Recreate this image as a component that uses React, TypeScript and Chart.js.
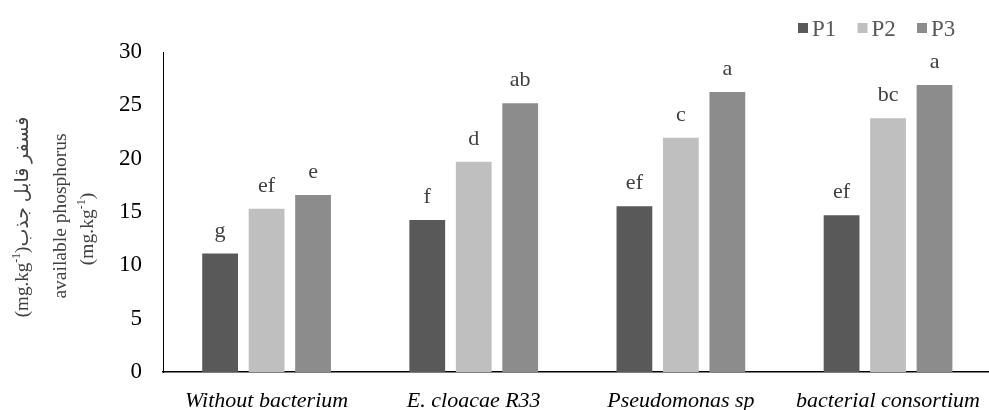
import React, { useEffect, useRef } from 'react';
import { Chart, registerables } from 'chart.js';

Chart.register(...registerables);

const categories = ['Without bacterium', 'E. cloacae R33', 'Pseudomonas sp', 'bacterial consortium'];
const seriesNames = ['P1', 'P2', 'P3'];
const p1Values = [11.1, 14.25, 15.55, 14.7];
const p2Values = [15.3, 19.7, 21.95, 23.8];
const p3Values = [16.6, 25.2, 26.25, 26.9];
const p1Letters = ['g', 'f', 'ef', 'ef'];
const p2Letters = ['ef', 'd', 'c', 'bc'];
const p3Letters = ['e', 'ab', 'a', 'a'];
const seriesColors = ['#595959', '#bfbfbf', '#8c8c8c'];
const yMin = 0;
const yMax = 30;
const yStep = 5;
const titleArabic = 'فسفر قابل جذب';
const titleEnglish = 'available phosphorus';
const unitBase = '(mg.kg';
const unitSup = '-1';
const unitClose = ')';

const SERIF = "'Liberation Serif', 'Times New Roman', 'DejaVu Sans', serif";
const lettersBySeries = [p1Letters, p2Letters, p3Letters];

const letterPlugin = {
  id: 'letters',
  afterDatasetsDraw(chart: any) {
    const ctx = chart.ctx;
    ctx.save();
    ctx.font = `22px ${SERIF}`;
    ctx.fillStyle = '#404040';
    ctx.textAlign = 'center';
    ctx.textBaseline = 'alphabetic';
    chart.data.datasets.forEach((_ds: any, i: number) => {
      const meta = chart.getDatasetMeta(i);
      meta.data.forEach((bar: any, j: number) => {
        ctx.fillText(lettersBySeries[i][j], bar.x, bar.y - 17);
      });
    });
    ctx.restore();
  },
};

const legendPlugin = {
  id: 'customLegend',
  afterDraw(chart: any) {
    const ctx = chart.ctx;
    ctx.save();
    ctx.font = `23px ${SERIF}`;
    ctx.textBaseline = 'alphabetic';
    ctx.textAlign = 'left';
    let x = 798;
    chart.data.datasets.forEach((ds: any) => {
      ctx.fillStyle = ds.backgroundColor;
      ctx.fillRect(x, 23, 10, 10);
      ctx.fillStyle = '#595959';
      ctx.fillText(ds.label, x + 14, 36);
      x += 59.5;
    });
    ctx.restore();
  },
};

type Seg = { text: string; sup?: boolean };

function drawLine(ctx: CanvasRenderingContext2D, segs: Seg[], cx: number, cy: number, size: number) {
  const supSize = Math.round(size * 0.62);
  const fontFor = (s: Seg) => `${s.sup ? supSize : size}px ${SERIF}`;
  let total = 0;
  const widths = segs.map((s) => {
    ctx.font = fontFor(s);
    const w = ctx.measureText(s.text).width;
    total += w;
    return w;
  });
  ctx.save();
  ctx.translate(cx, cy);
  ctx.rotate(-Math.PI / 2);
  ctx.textAlign = 'left';
  ctx.textBaseline = 'alphabetic';
  let x = -total / 2;
  const base = size * 0.33;
  segs.forEach((s, i) => {
    ctx.font = fontFor(s);
    ctx.fillText(s.text, x, s.sup ? base - size * 0.42 : base);
    x += widths[i];
  });
  ctx.restore();
}

const yTitlePlugin = {
  id: 'yTitle',
  afterDraw(chart: any) {
    const ctx = chart.ctx;
    ctx.save();
    ctx.fillStyle = '#404040';
    const unit: Seg[] = [{ text: unitBase }, { text: unitSup, sup: true }, { text: unitClose }];
    drawLine(ctx, [...unit, { text: titleArabic }], 22, 217, 19);
    drawLine(ctx, [{ text: titleEnglish }], 60, 216, 19.5);
    drawLine(ctx, unit, 87, 229, 19.5);
    ctx.restore();
  },
};

export default function App() {
  const ref = useRef<HTMLCanvasElement | null>(null);

  useEffect(() => {
    if (!ref.current) return;
    const values = [p1Values, p2Values, p3Values];
    const chart = new Chart(ref.current, {
      type: 'bar',
      data: {
        labels: categories,
        datasets: seriesNames.map((name, i) => ({
          label: name,
          data: values[i],
          backgroundColor: seriesColors[i],
          borderWidth: 0,
          categoryPercentage: 0.673,
          barPercentage: 0.77,
        })),
      },
      options: {
        responsive: false,
        animation: false,
        devicePixelRatio: 1,
        layout: { padding: { top: 52, left: 0, right: 0, bottom: 0 } },
        plugins: {
          legend: { display: false },
          tooltip: { enabled: false },
          title: { display: false },
        },
        scales: {
          x: {
            grid: { display: false, drawTicks: false },
            border: { display: true, color: '#000', width: 1.5 },
            ticks: {
              font: { family: SERIF, size: 22, style: 'italic' },
              color: '#000',
              padding: 16,
              maxRotation: 0,
              autoSkip: false,
            },
            afterFit(scale: any) {
              scale.height = 38;
            },
          },
          y: {
            min: yMin,
            max: yMax,
            ticks: {
              stepSize: yStep,
              font: { family: SERIF, size: 23 },
              color: '#000',
              padding: 21,
            },
            grid: { display: false, drawTicks: false },
            border: { display: true, color: '#000', width: 1 },
            afterFit(scale: any) {
              scale.width = 163;
            },
          },
        },
      },
      plugins: [letterPlugin, legendPlugin, yTitlePlugin],
    });
    return () => chart.destroy();
  }, []);

  return (
    <div
      style={{
        position: 'fixed',
        left: 0,
        top: 0,
        width: 989,
        height: 410,
        overflow: 'hidden',
        background: '#fff',
      }}
    >
      <canvas ref={ref} width={996} height={410} style={{ display: 'block', width: 996, height: 410 }} />
    </div>
  );
}
